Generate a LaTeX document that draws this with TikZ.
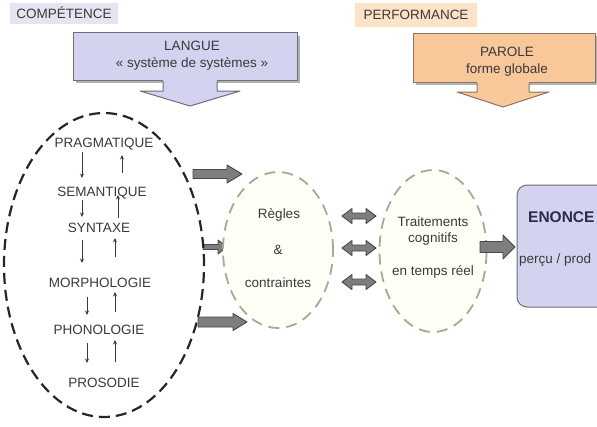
\documentclass[tikz,border=0pt]{standalone}
\usepackage{fontspec}
\setmainfont{Liberation Sans}
\usetikzlibrary{arrows.meta,shapes.geometric}
\definecolor{lav}{HTML}{D3D3EF}
\definecolor{lavlight}{HTML}{E4E4F2}
\definecolor{peach}{HTML}{F8C79A}
\definecolor{peachlight}{HTML}{FCE3C8}
\definecolor{boxedge}{HTML}{6E6E78}
\definecolor{peachedge}{HTML}{8C7462}
\definecolor{olive}{HTML}{A9A990}
\definecolor{txt}{HTML}{3A3A3A}
\definecolor{garr}{HTML}{7E7E7E}
\definecolor{garredge}{HTML}{484848}
\definecolor{navy}{HTML}{2B2B4F}
\newcommand\rblock[6]{% x1, x2, y, shaft half, head half, head length
  \draw[blockarrow] (#1,#3-#4) -- (#2-#6,#3-#4) -- (#2-#6,#3-#5) -- (#2,#3)
    -- (#2-#6,#3+#5) -- (#2-#6,#3+#4) -- (#1,#3+#4) -- cycle;}
\newcommand\dblock[6]{% x1, x2, y, shaft half, head half, head length
  \draw[blockarrow] (#1,#3) -- (#1+#6,#3-#5) -- (#1+#6,#3-#4) -- (#2-#6,#3-#4)
    -- (#2-#6,#3-#5) -- (#2,#3) -- (#2-#6,#3+#5) -- (#2-#6,#3+#4)
    -- (#1+#6,#3+#4) -- (#1+#6,#3+#5) -- cycle;}
\newcommand\vblock[8]{% cx, ytop, yheadstart, ytip, shaft half, head half, fill, edge
  \fill[#7] (#1-#5,#2) -- (#1-#5,#3) -- (#1-#6,#3) -- (#1,#4) -- (#1+#6,#3) -- (#1+#5,#3) -- (#1+#5,#2) -- cycle;
  \draw[#8, line width=1pt, line join=round] (#1-#5,#2+1) -- (#1-#5,#3) -- (#1-#6,#3) -- (#1,#4) -- (#1+#6,#3) -- (#1+#5,#3) -- (#1+#5,#2+1);}
\begin{document}
\begin{tikzpicture}[x=1pt,y=-1pt,
  font=\fontsize{13.5}{16}\selectfont,
  every node/.style={text=txt, inner sep=0pt},
  tag/.style={minimum height=21pt},
  topbox/.style={draw=#1, line width=1pt, minimum height=48pt},
  bigoval/.style={ellipse, draw=black!85, line width=2.2pt, dash pattern=on 11pt off 6pt},
  smalloval/.style={ellipse, draw=olive, fill=yellow!3, line width=1.8pt, dash pattern=on 11pt off 7pt},
  blockarrow/.style={fill=garr, draw=garredge, line width=0.9pt, line join=round},
  smallarr/.style={draw=txt, line width=0.9pt, -{Stealth[length=4.5pt,width=4pt]}}]
\clip (0,0) rectangle (597,426);
\fill[white] (0,0) rectangle (597,426);

% top labels
\node[tag, fill=lavlight, minimum width=108pt] (comp) at (64,13) {COMPÉTENCE};
\node[tag, fill=peachlight, minimum width=122pt, minimum height=24pt] (perf) at (416,15) {PERFORMANCE};

% LANGUE box and its arrow
\fill[black!30] (76,36) rectangle (300,83);
\node[topbox=boxedge, fill=lav, minimum width=224pt] (langue) at (185,56.5) {};
\vblock{190}{80}{91}{106}{27}{50}{lav}{boxedge}
\node (languet) at (192,46) {LANGUE};
\node (langues) at (192,63.5) {« système de systèmes »};

% PAROLE box and its arrow
\fill[black!30] (416,36) rectangle (598,85);
\node[topbox=peachedge, fill=peach, minimum width=182pt, minimum height=49pt] (parole) at (504,57.5) {};
\vblock{503}{82}{92}{107}{26}{46}{peach}{peachedge}
\node (parolet) at (507,52) {PAROLE};
\node (paroles) at (507,70) {forme globale};

% block arrows to the rules
\rblock{193}{242}{174}{4.5}{9}{15}
\rblock{203}{227}{247}{2.5}{7}{9}
\rblock{198}{247}{322}{5}{8.5}{14}

% big dashed oval
\node[bigoval, minimum width=200pt, minimum height=304pt] (systemes) at (104,265) {};
\node (prag) at (104,144) {PRAGMATIQUE};
\node (sem) at (102,193) {SEMANTIQUE};
\node (synt) at (99,228) {SYNTAXE};
\node (morph) at (100,283) {MORPHOLOGIE};
\node (phon) at (99,330) {PHONOLOGIE};
\node (pros) at (104,383) {PROSODIE};

% small arrows
\draw[smallarr] (prag.center) ++(-22,8) -- ++(0,26);
\draw[smallarr] (sem.center) ++(20,-20) -- ++(0,-18);
\draw[smallarr] (sem.center) ++(-20,7) -- ++(0,17);
\draw[smallarr] (synt.center) ++(19,-10) -- ++(0,-23);
\draw[smallarr] (synt.center) ++(-17,12) -- ++(0,23);
\draw[smallarr] (morph.center) ++(15,-26) -- ++(0,-19);
\draw[smallarr] (morph.center) ++(-13,14) -- ++(0,18);
\draw[smallarr] (phon.center) ++(16,-18) -- ++(0,-20);
\draw[smallarr] (phon.center) ++(-12,13) -- ++(0,20);
\draw[smallarr] (pros.center) ++(11,-21) -- ++(0,-22);

% rules oval
\node[smalloval, minimum width=110pt, minimum height=156pt] (regles) at (278,250) {};
\node (reglest) at (279,215) {Règles};
\node (et) at (278,250) {\&};
\node (contr) at (278,283) {contraintes};

% double arrows
\dblock{342}{376}{216}{3}{7.5}{10}
\dblock{342}{376}{248}{3}{7.5}{10}
\dblock{342}{376}{282}{3}{7.5}{10}

% cognitive oval
\node[smalloval, minimum width=107pt, minimum height=162pt] (trait) at (433,251) {};
\node (trait1) at (433,222) {Traitements};
\node (trait2) at (433,239) {cognitifs};
\node (trait3) at (433,272) {en temps réel};

% arrow to ENONCE
\rblock{480}{515}{247}{5.5}{12}{12}

% ENONCE box
\draw[draw=boxedge, fill=lav, line width=1pt, rounded corners=10pt] (517,185) rectangle (650,307);
\node[anchor=west, text=navy, font=\fontsize{15.5}{18}\selectfont\bfseries] (enonce) at (528,217) {ENONCE};
\node[anchor=west, font=\fontsize{13.5}{16}\selectfont] (percu) at (519,260) {perçu / prod};
\end{tikzpicture}
\end{document}
